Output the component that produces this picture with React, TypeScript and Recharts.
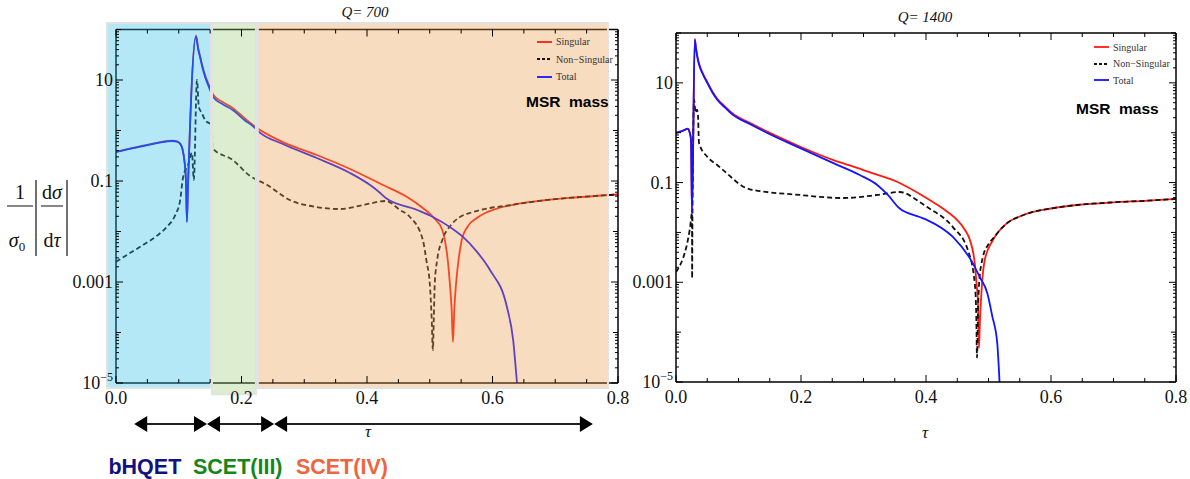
import React from 'react';
import { LineChart, Line, XAxis, YAxis, ReferenceArea, Legend } from 'recharts';

const SERIF = '"Liberation Serif", "DejaVu Serif", serif';
const SANS = '"Liberation Sans", Arial, sans-serif';

type Pair = [number, number];

// τ axis ticks
const X_MAJOR = [0, 0.2, 0.4, 0.6, 0.8];
const X_MAJOR_LABELS = ['0.0', '0.2', '0.4', '0.6', '0.8'];
const X_MINOR = [0.05, 0.1, 0.15, 0.25, 0.3, 0.35, 0.45, 0.5, 0.55, 0.65, 0.7, 0.75];
const X_TICKS = [...X_MAJOR, ...X_MINOR].sort((a, b) => a - b);

// log axis ticks
const Y_DECADES = [1e-5, 1e-4, 1e-3, 1e-2, 1e-1, 1, 10, 100];
const Y_LABELLED = [1e-5, 1e-3, 1e-1, 10];
const Y_LABELS = ['10^−5', '0.001', '0.1', '10'];
const Y_MINOR = Y_DECADES.slice(0, -1).flatMap(d => [2, 3, 4, 5, 6, 7, 8, 9].map(m => d * m));
const Y_TICKS = [...Y_DECADES, ...Y_MINOR].sort((a, b) => a - b);
const Y_DOMAIN = [1e-5, 100];

// Q = 700
const Q700_SINGULAR: Pair[] = [
  [0, 0.38], [0.02, 0.435], [0.043, 0.5], [0.065, 0.57], [0.082, 0.62], [0.09, 0.63], [0.097, 0.61],
  [0.102, 0.56], [0.106, 0.43], [0.109, 0.26], [0.1115, 0.1], [0.113, 0.016], [0.1147, 0.08],
  [0.1275, 76], [0.131, 43], [0.134, 30], [0.138, 18.5], [0.142, 12.5], [0.148, 8], [0.155, 5.1],
  [0.17, 3.65], [0.186, 2.8], [0.205, 1.75], [0.2247, 1.12], [0.266, 0.59], [0.32, 0.327],
  [0.373, 0.173], [0.4255, 0.0834], [0.464, 0.0482], [0.489, 0.0292], [0.505, 0.0194], [0.52, 0.0107],
  [0.524, 0.0068], [0.529, 0.0025], [0.532, 0.00095], [0.5348, 0.0003], [0.537, 0.000065],
  [0.5392, 0.0003], [0.542, 0.00095], [0.546, 0.0028], [0.551, 0.0068], [0.56, 0.0123], [0.575, 0.0185],
  [0.59, 0.0238], [0.61, 0.0292], [0.64, 0.0351], [0.68, 0.0411], [0.73, 0.0471], [0.8, 0.0541],
];
const Q700_NONSINGULAR: Pair[] = [
  [0, 0.0025], [0.02, 0.0036], [0.043, 0.0054], [0.065, 0.0082], [0.081, 0.0123], [0.095, 0.022],
  [0.102, 0.04], [0.107, 0.12], [0.115, 0.21], [0.121, 0.36], [0.124, 0.105], [0.129, 10], [0.132, 2.9],
  [0.137, 2.2], [0.142, 1.6], [0.148, 1.41], [0.153, 1.29], [0.1535, 0.45], [0.186, 0.26], [0.2135, 0.126],
  [0.241, 0.0834], [0.277, 0.042], [0.32, 0.0305], [0.357, 0.0279], [0.394, 0.0335], [0.43, 0.0402],
  [0.4526, 0.0267], [0.4685, 0.0194], [0.489, 0.0068], [0.495, 0.0025], [0.5, 0.00095], [0.503, 0.0002],
  [0.505, 0.000045], [0.5065, 0.0002], [0.508, 0.00095], [0.512, 0.0028], [0.52, 0.0068], [0.533, 0.013],
  [0.548, 0.0194], [0.565, 0.0235], [0.596, 0.0292], [0.62, 0.0321], [0.64, 0.0351], [0.68, 0.0411],
  [0.73, 0.0471], [0.8, 0.0541],
];
const Q700_TOTAL: Pair[] = [
  [0, 0.375], [0.02, 0.43], [0.043, 0.49], [0.065, 0.56], [0.082, 0.61], [0.09, 0.62], [0.097, 0.6],
  [0.102, 0.55], [0.106, 0.42], [0.109, 0.25], [0.1115, 0.1], [0.113, 0.0154], [0.1147, 0.076],
  [0.1275, 71], [0.131, 40], [0.134, 28], [0.138, 17], [0.142, 11.5], [0.148, 7.3], [0.155, 4.6],
  [0.17, 3.3], [0.186, 2.55], [0.205, 1.6], [0.2215, 1.12], [0.226, 0.98], [0.266, 0.54], [0.32, 0.285],
  [0.373, 0.144], [0.405, 0.083], [0.421, 0.058], [0.43, 0.046], [0.48, 0.0267], [0.505, 0.0194],
  [0.532, 0.0123], [0.553, 0.0078], [0.575, 0.004], [0.596, 0.00173], [0.623, 0.00032], [0.633, 0.00007],
  [0.639, 0.00001], [0.641, 0.000005],
];

// Q = 1400
const Q1400_SINGULAR: Pair[] = [
  [0, 1.0], [0.01, 1.09], [0.019, 1.2], [0.0215, 1.06], [0.024, 0.73], [0.0256, 0.025], [0.03, 76],
  [0.032, 50], [0.035, 30], [0.038, 22], [0.044, 14.5], [0.05, 10.5], [0.058, 6.8], [0.066, 4.8],
  [0.079, 3.3], [0.091, 2.4], [0.118, 1.58], [0.146, 1.05], [0.198, 0.53], [0.251, 0.285], [0.294, 0.19],
  [0.306, 0.167], [0.358, 0.098], [0.39, 0.059], [0.411, 0.0407], [0.4304, 0.0282], [0.45, 0.0177],
  [0.4624, 0.0112], [0.4704, 0.007], [0.478, 0.0024], [0.481, 0.0009], [0.483, 0.00044], [0.4848, 0.000048],
  [0.4865, 0.0002], [0.488, 0.00044], [0.491, 0.0015], [0.494, 0.0028], [0.507, 0.007], [0.53, 0.0155],
  [0.55, 0.0209], [0.571, 0.0257], [0.6, 0.0302], [0.642, 0.0355], [0.7, 0.0402], [0.75, 0.0431],
  [0.8, 0.0469],
];
const Q1400_NONSINGULAR: Pair[] = [
  [0, 0.0016], [0.0224, 0.0122], [0.0256, 0.0245], [0.0258, 0.0012], [0.0264, 0.03], [0.029, 4.6],
  [0.0305, 3], [0.032, 2.5], [0.0335, 2.9], [0.035, 2.5], [0.0368, 0.62], [0.05, 0.33], [0.066, 0.225],
  [0.075, 0.18], [0.117, 0.0743], [0.198, 0.0564], [0.267, 0.049], [0.322, 0.0564], [0.358, 0.0647],
  [0.39, 0.0407], [0.402, 0.0323], [0.443, 0.0128], [0.467, 0.0044], [0.478, 0.00096], [0.4805, 0.0002],
  [0.4816, 0.000031], [0.483, 0.0002], [0.485, 0.00096], [0.491, 0.0032], [0.5, 0.0058], [0.507, 0.0075],
  [0.53, 0.0155], [0.55, 0.0209], [0.571, 0.0257], [0.6, 0.0302], [0.642, 0.0355], [0.7, 0.0402],
  [0.75, 0.0431], [0.8, 0.0469],
];
const Q1400_TOTAL: Pair[] = [
  [0, 0.99], [0.01, 1.08], [0.019, 1.19], [0.0215, 1.05], [0.024, 0.72], [0.0256, 0.0245], [0.03, 73],
  [0.032, 48], [0.035, 29], [0.038, 21], [0.044, 14], [0.05, 10], [0.058, 6.5], [0.066, 4.6], [0.079, 3.15],
  [0.091, 2.28], [0.118, 1.5], [0.146, 0.99], [0.198, 0.495], [0.251, 0.248], [0.294, 0.142],
  [0.322, 0.0895], [0.339, 0.0564], [0.357, 0.0309], [0.39, 0.0204], [0.402, 0.0177], [0.443, 0.0081],
  [0.475, 0.0024], [0.486, 0.00127], [0.498, 0.00061], [0.506, 0.00021], [0.514, 0.00006], [0.518, 0.000008],
];

// effective-theory regions (τ ranges) laid over the Q = 700 curves
const REGION_NAMES = ['bHQET', 'SCET(III)', 'SCET(IV)'];
const REGION_FROM = [-0.0143, 0.153, 0.226];
const REGION_TO = [0.1514, 0.223, 0.784];
const REGION_BOTTOM = [8e-6, 6e-6, 8e-6];
const REGION_TOP = 135;
const REGION_FILLS = ['#2bbde6', '#9bcc79', '#e89b4b'];
const REGION_TEXT = ['#12127e', '#17861a', '#f0643e'];
const REGION_LABEL_AT = [0.046, 0.194, 0.36];
const ARROW_SPANS: Pair[] = [[0.029, 0.145], [0.145, 0.252], [0.252, 0.76]];

const SERIES = [
  { name: 'Singular', color: '#ff1a10', dash: undefined as string | undefined },
  { name: 'Non−Singular', color: '#111', dash: '5 3' },
  { name: 'Total', color: '#1414ff', dash: undefined as string | undefined },
];

const rows = (pts: Pair[]) => pts.map(([t, v]) => ({ t, v }));
const nearX = (a: number, b: number) => Math.abs(a - b) < 1e-6;
const nearLog = (a: number, b: number) => Math.abs(Math.log10(a) - Math.log10(b)) < 1e-6;

function xTick(side: 'bottom' | 'top', withLabels: boolean) {
  return (props: any) => {
    const { x, y, payload } = props;
    const idx = X_MAJOR.findIndex(m => nearX(m, payload.value));
    const len = idx >= 0 ? 7 : 4;
    const dir = side === 'bottom' ? -1 : 1;
    return (
      <g>
        <line x1={x} x2={x} y1={y} y2={y + dir * len} stroke="#000" strokeWidth={1} />
        {withLabels && idx >= 0 && (
          <text x={x} y={y + 21} textAnchor="middle" fontFamily={SERIF} fontSize={18} fill="#111">
            {X_MAJOR_LABELS[idx]}
          </text>
        )}
      </g>
    );
  };
}

function yTick(side: 'left' | 'right', withLabels: boolean) {
  return (props: any) => {
    const { x, y, payload } = props;
    const v = payload.value;
    const lab = Y_LABELLED.findIndex(m => nearLog(m, v));
    const decade = Y_DECADES.some(m => nearLog(m, v));
    const len = lab >= 0 ? 7 : decade ? 5 : 3;
    const dir = side === 'left' ? 1 : -1;
    const text = lab >= 0 ? Y_LABELS[lab] : '';
    const [base, exp] = text.split('^');
    return (
      <g>
        <line x1={x} x2={x + dir * len} y1={y} y2={y} stroke="#000" strokeWidth={1} />
        {withLabels && lab >= 0 && (
          <text x={x - 3} y={y + 6} textAnchor="end" fontFamily={SERIF} fontSize={18} fill="#111">
            <tspan>{base}</tspan>
            {exp && <tspan dy={-8} fontSize={12}>{exp}</tspan>}
          </text>
        )}
      </g>
    );
  };
}

const LegendBox = ({ rowH }: { rowH: number }) => (
  <div style={{ fontFamily: SERIF, fontSize: 10, color: '#333' }}>
    {SERIES.map(s => (
      <div key={s.name} style={{ display: 'flex', alignItems: 'center', height: rowH, whiteSpace: 'nowrap' }}>
        <svg width={15} height={4} style={{ marginRight: 4 }}>
          <line x1={0} y1={2} x2={15} y2={2} stroke={s.color} strokeWidth={1.8} strokeDasharray={s.dash ? '3 2' : undefined} />
        </svg>
        <span>{s.name}</span>
      </div>
    ))}
  </div>
);

interface PanelProps {
  left: number;
  width: number;
  plot: { x0: number; x1: number; y0: number; y1: number };
  curves: Pair[][];
  legendLeft: number;
  legendTop: number;
  legendRow: number;
  shaded?: boolean;
}

function Panel({ left, width, plot, curves, legendLeft, legendTop, legendRow, shaded }: PanelProps) {
  const H = 479;
  // the top, bottom and right axes take 1px each, the plot box itself is given by `plot`
  return (
    <div style={{ position: 'absolute', left, top: 0 }}>
      <LineChart
        width={width}
        height={H}
        margin={{ top: plot.y0 - 1, right: left + width - plot.x1 - 1, bottom: H - plot.y1 - 1, left: 0 }}
      >
        <XAxis
          dataKey="t" type="number" domain={[0, 0.8]} ticks={X_TICKS} interval={0} allowDataOverflow
          height={1} tickSize={0} tickMargin={0} tickLine={false}
          axisLine={{ stroke: '#000', strokeWidth: 1.5 }} tick={xTick('bottom', true)}
        />
        <XAxis
          xAxisId="top" orientation="top" dataKey="t" type="number" domain={[0, 0.8]} ticks={X_TICKS}
          interval={0} allowDataOverflow height={1} tickSize={0} tickMargin={0} tickLine={false}
          axisLine={{ stroke: '#000', strokeWidth: 1.5 }} tick={xTick('top', false)}
        />
        <YAxis
          scale="log" type="number" domain={Y_DOMAIN} ticks={Y_TICKS} interval={0} allowDataOverflow
          width={plot.x0 - left} tickSize={0} tickMargin={0} tickLine={false}
          axisLine={{ stroke: '#000', strokeWidth: 1.5 }} tick={yTick('left', true)}
        />
        <YAxis
          yAxisId="r" orientation="right" scale="log" type="number" domain={Y_DOMAIN} ticks={Y_TICKS}
          interval={0} allowDataOverflow width={1} tickSize={0} tickMargin={0} tickLine={false}
          axisLine={{ stroke: '#000', strokeWidth: 1.5 }} tick={yTick('right', false)}
        />
        {SERIES.map((s, i) => (
          <Line
            key={s.name}
            data={rows(curves[i])}
            dataKey="v"
            name={s.name}
            type="monotone"
            stroke={s.color}
            strokeWidth={1.8}
            strokeDasharray={s.dash}
            dot={false}
            activeDot={false}
            isAnimationActive={false}
          />
        ))}
        {shaded &&
          REGION_NAMES.map((n, i) => (
            <ReferenceArea
              key={n}
              x1={REGION_FROM[i]}
              x2={REGION_TO[i]}
              y1={REGION_BOTTOM[i]}
              y2={REGION_TOP}
              ifOverflow="visible"
              fill={REGION_FILLS[i]}
              fillOpacity={0.35}
              stroke="#e2e2e2"
              strokeWidth={2}
              zIndex={1500}
            />
          ))}
        <Legend
          layout="horizontal"
          verticalAlign="middle"
          align="center"
          content={() => <LegendBox rowH={legendRow} />}
          wrapperStyle={{ left: legendLeft - left, top: legendTop, width: 'auto' }}
        />
      </LineChart>
    </div>
  );
}

const LEFT_PLOT = { x0: 116, x1: 618, y0: 29.5, y1: 383 };
const RIGHT_PLOT = { x0: 676, x1: 1176, y0: 33, y1: 382 };

function Annotations() {
  const tx = (t: number) => LEFT_PLOT.x0 + (t / 0.8) * (LEFT_PLOT.x1 - LEFT_PLOT.x0);
  const ay = 424;
  const L = 13;
  const Hh = 8;
  return (
    <svg width={1190} height={479} style={{ position: 'absolute', left: 0, top: 0, pointerEvents: 'none' }}>
      <text x={365} y={17} textAnchor="middle" fontFamily={SERIF} fontSize={15} fontStyle="italic" fill="#111">Q= 700</text>
      <text x={925} y={22} textAnchor="middle" fontFamily={SERIF} fontSize={15} fontStyle="italic" fill="#111">Q= 1400</text>

      {/* y label: 1/σ0 |dσ/dτ| */}
      <g fontFamily={SERIF} fontSize={20} fill="#111">
        <text x={20} y={199} textAnchor="middle">1</text>
        <line x1={7} x2={33} y1={206} y2={206} stroke="#111" strokeWidth={1} />
        <text x={17} y={247} textAnchor="middle">
          <tspan fontStyle="italic">σ</tspan>
          <tspan fontSize={13} dy={4}>0</tspan>
        </text>
        <line x1={36} x2={36} y1={180} y2={256} stroke="#111" strokeWidth={1.2} />
        <text x={52} y={199} textAnchor="middle">d<tspan fontStyle="italic">σ</tspan></text>
        <line x1={41} x2={63} y1={206} y2={206} stroke="#111" strokeWidth={1} />
        <text x={52} y={247} textAnchor="middle">d<tspan fontStyle="italic">τ</tspan></text>
        <line x1={67} x2={67} y1={180} y2={256} stroke="#111" strokeWidth={1.2} />
      </g>

      <text x={368} y={437} textAnchor="middle" fontFamily={SERIF} fontSize={17} fontStyle="italic" fill="#111">τ</text>
      <text x={925} y={438} textAnchor="middle" fontFamily={SERIF} fontSize={17} fontStyle="italic" fill="#111">τ</text>

      <text x={526} y={107} fontFamily={SANS} fontWeight="bold" fontSize={15.5} fill="#000" style={{ whiteSpace: 'pre' }}>MSR  mass</text>
      <text x={1076} y={114} fontFamily={SANS} fontWeight="bold" fontSize={15.5} fill="#000" style={{ whiteSpace: 'pre' }}>MSR  mass</text>

      {ARROW_SPANS.map(([a, b], i) => {
        const xa = tx(a);
        const xb = tx(b);
        return (
          <g key={i}>
            <line x1={xa + L - 1} x2={xb - L + 1} y1={ay} y2={ay} stroke="#222" strokeWidth={2} />
            <polygon points={`${xa},${ay} ${xa + L},${ay - Hh} ${xa + L},${ay + Hh}`} fill="#000" />
            <polygon points={`${xb},${ay} ${xb - L},${ay - Hh} ${xb - L},${ay + Hh}`} fill="#000" />
          </g>
        );
      })}
      {REGION_NAMES.map((n, i) => (
        <text key={n} x={tx(REGION_LABEL_AT[i])} y={474} textAnchor="middle" fontFamily={SANS} fontWeight="bold" fontSize={21.5} fill={REGION_TEXT[i]}>
          {n}
        </text>
      ))}
    </svg>
  );
}

export default function App() {
  return (
    <div style={{ position: 'absolute', left: 0, top: 0, width: 1190, height: 479, background: '#fff', overflow: 'hidden' }}>
      <Panel
        left={0}
        width={640}
        plot={LEFT_PLOT}
        curves={[Q700_SINGULAR, Q700_NONSINGULAR, Q700_TOTAL]}
        legendLeft={537}
        legendTop={33}
        legendRow={17.5}
        shaded
      />
      <Panel
        left={624}
        width={566}
        plot={RIGHT_PLOT}
        curves={[Q1400_SINGULAR, Q1400_NONSINGULAR, Q1400_TOTAL]}
        legendLeft={1094}
        legendTop={39}
        legendRow={16.5}
      />
      <Annotations />
    </div>
  );
}
